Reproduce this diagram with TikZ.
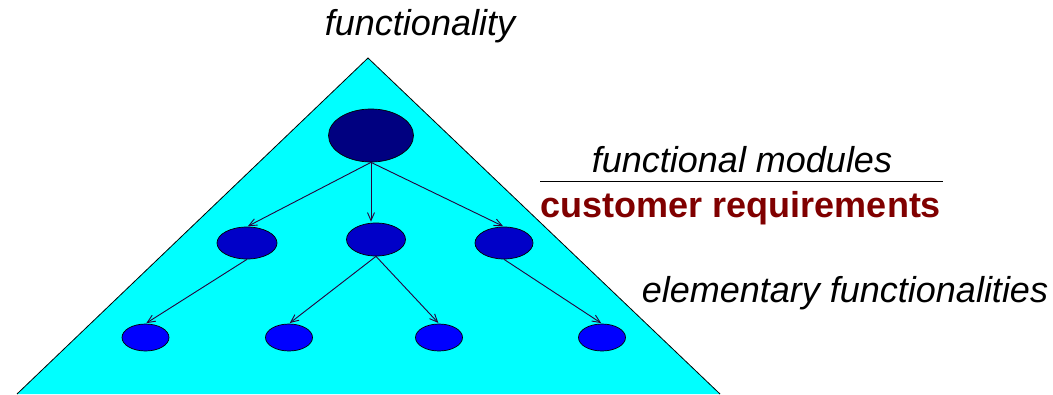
\documentclass[tikz,border=0pt]{standalone}
\usepackage{fontspec}
\setmainfont{Liberation Sans}
\usetikzlibrary{arrows.meta,shapes.geometric}
\definecolor{pyrfill}{RGB}{0,255,255}
\definecolor{navyfill}{RGB}{0,0,128}
\definecolor{midfill}{RGB}{0,0,200}
\definecolor{leaffill}{RGB}{0,0,255}
\definecolor{darkred}{RGB}{128,0,0}
\definecolor{arrowcol}{RGB}{40,0,60}
\tikzset{
  blob/.style={ellipse,draw=black,line width=0.7pt,inner sep=0pt},
  link/.style={-{Straight Barb[length=8pt,width=7pt]},arrowcol,line width=0.9pt,shorten >=1pt},
  label/.style={font=\fontsize{36}{40}\selectfont,inner sep=0pt}
}
\begin{document}
\begin{tikzpicture}[x=1pt,y=-1pt]
  \useasboundingbox (0,0) rectangle (1053,394);
  % pyramid
  \coordinate (A) at (368,58);
  \coordinate (BL) at (17,394);
  \coordinate (BR) at (720,394);
  \fill[pyrfill] (A) -- (BL) -- (BR) -- cycle;
  \draw[line width=0.8pt] (BL) -- (A) -- (BR);
  % tree
  \node[blob,fill=navyfill,minimum width=85pt,minimum height=53pt] (top) at (371,135.5) {};
  \node[blob,fill=midfill,minimum width=60pt,minimum height=32pt] (m1) at (247,243) {};
  \node[blob,fill=midfill,minimum width=59pt,minimum height=33pt] (m2) at (376,239.5) {};
  \node[blob,fill=midfill,minimum width=58pt,minimum height=32pt] (m3) at (504,243) {};
  \foreach \n/\x in {l1/145.5,l2/289,l3/439,l4/602}
    \node[blob,fill=leaffill,minimum width=47pt,minimum height=27pt] (\n) at (\x,337.5) {};
  \draw[link] (top.south) -- (m1.north);
  \draw[link] (top.south) -- (top.south |- m2.north);
  \draw[link] (top.south) -- (m3.north);
  \draw[link] (m1.south) -- (l1.north);
  \draw[link] (m2.south) -- (l2.north);
  \draw[link] (m2.south) -- (l3.north);
  \draw[link] (m3.south) -- (l4.north);
  % labels
  \node[label,anchor=base,font=\fontsize{36}{40}\selectfont\itshape] (func) at (420,35) {functionality};
  \node[label,anchor=base,font=\fontsize{36}{40}\selectfont\itshape] (mods) at (742,172) {functional modules};
  \coordinate (s1) at (540,181.5);
  \coordinate (s2) at (943,181.5);
  \draw[line width=1.6pt] (s1) -- (s2);
  \node[label,anchor=base,text=darkred,font=\fontsize{36}{40}\selectfont\bfseries] (cust) at (741,217) {customer requirements};
  \node[label,anchor=base,font=\fontsize{36}{40}\selectfont\itshape] (elem) at (845,302) {elementary functionalities};
\end{tikzpicture}
\end{document}
